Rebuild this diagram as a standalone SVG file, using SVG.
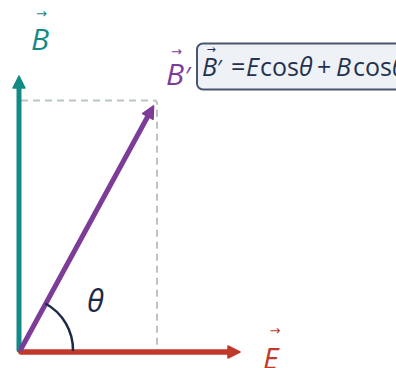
<svg xmlns="http://www.w3.org/2000/svg" width="396" height="368" viewBox="0 0 396 368">
  <style>
    .lbl { font-family: "Open Sans", "DejaVu Sans", sans-serif; font-style: italic; }
    .up { font-style: normal; }
    .vec { font-family: "DejaVu Sans", sans-serif; font-style: normal; }
    .guide { fill: none; stroke: #b9c4c3; stroke-width: 2; stroke-dasharray: 7 5; }
  </style>
  <defs>
    <marker id="hTeal" viewBox="0 0 14 14" markerWidth="14" markerHeight="14" refX="2" refY="7" orient="auto" markerUnits="userSpaceOnUse">
      <path d="M1,1 L13,7 L1,13 z" fill="#138a85" stroke="#138a85" stroke-width="1.5" stroke-linejoin="round"/>
    </marker>
    <marker id="hPurple" viewBox="0 0 14 14" markerWidth="14" markerHeight="14" refX="2" refY="7" orient="auto" markerUnits="userSpaceOnUse">
      <path d="M1,1 L13,7 L1,13 z" fill="#7d3c98" stroke="#7d3c98" stroke-width="1.5" stroke-linejoin="round"/>
    </marker>
    <marker id="hRed" viewBox="0 0 14 14" markerWidth="14" markerHeight="14" refX="2" refY="7" orient="auto" markerUnits="userSpaceOnUse">
      <path d="M1,1 L13,7 L1,13 z" fill="#c0392b" stroke="#c0392b" stroke-width="1.5" stroke-linejoin="round"/>
    </marker>
  </defs>

  <g id="connectors">
    <path class="guide" d="M21,100.5 H154 Q157,100.5 157,103.5 V350"/>
    <line x1="19" y1="350" x2="19" y2="87" stroke="#138a85" stroke-width="5" stroke-linecap="round" marker-end="url(#hTeal)"/>
    <line x1="21" y1="352" x2="229" y2="352" stroke="#c0392b" stroke-width="5.5" stroke-linecap="round" marker-end="url(#hRed)"/>
    <line x1="21" y1="349" x2="148.3" y2="115.5" stroke="#7d3c98" stroke-width="5" stroke-linecap="round" marker-end="url(#hPurple)"/>
    <path d="M73,351 A53,53 0 0 0 45.4,303.5" fill="none" stroke="#1c2a48" stroke-width="2.5"/>
  </g>

  <g id="label-B">
    <text class="vec" x="41.5" y="18" font-size="13" fill="#138a85" text-anchor="middle">→</text>
    <text class="lbl" x="31" y="50" font-size="30" fill="#138a85">B</text>
  </g>

  <g id="label-Bprime">
    <text class="vec" x="176.5" y="56" font-size="13" fill="#7d3c98" text-anchor="middle">→</text>
    <text class="lbl" x="166" y="85" font-size="30" fill="#7d3c98">B<tspan class="up" font-size="26" dx="1">′</tspan></text>
  </g>

  <g id="formula">
    <rect x="197" y="43.5" width="215" height="46" rx="6" fill="#eef1f6" stroke="#4a5570" stroke-width="2"/>
    <text class="vec" x="211" y="53" font-size="11" fill="#24314f" text-anchor="middle">→</text>
    <text class="lbl" y="76" font-size="25" fill="#24314f"><tspan x="202">B</tspan><tspan class="up" font-size="22">′</tspan><tspan class="up" x="231">=</tspan><tspan x="246">E</tspan><tspan class="up" x="260">cos</tspan><tspan x="299">θ</tspan><tspan class="up" x="317">+</tspan><tspan x="336">B</tspan><tspan class="up" x="353">cos</tspan><tspan x="392">θ</tspan></text>
  </g>

  <g id="label-E">
    <text class="vec" x="275" y="335" font-size="13" fill="#c0392b" text-anchor="middle">→</text>
    <text class="lbl" x="263" y="369" font-size="30" fill="#c0392b">E</text>
  </g>

  <g id="label-theta">
    <text class="lbl" x="87" y="312" font-size="31" fill="#1c2a48">θ</text>
  </g>
</svg>
